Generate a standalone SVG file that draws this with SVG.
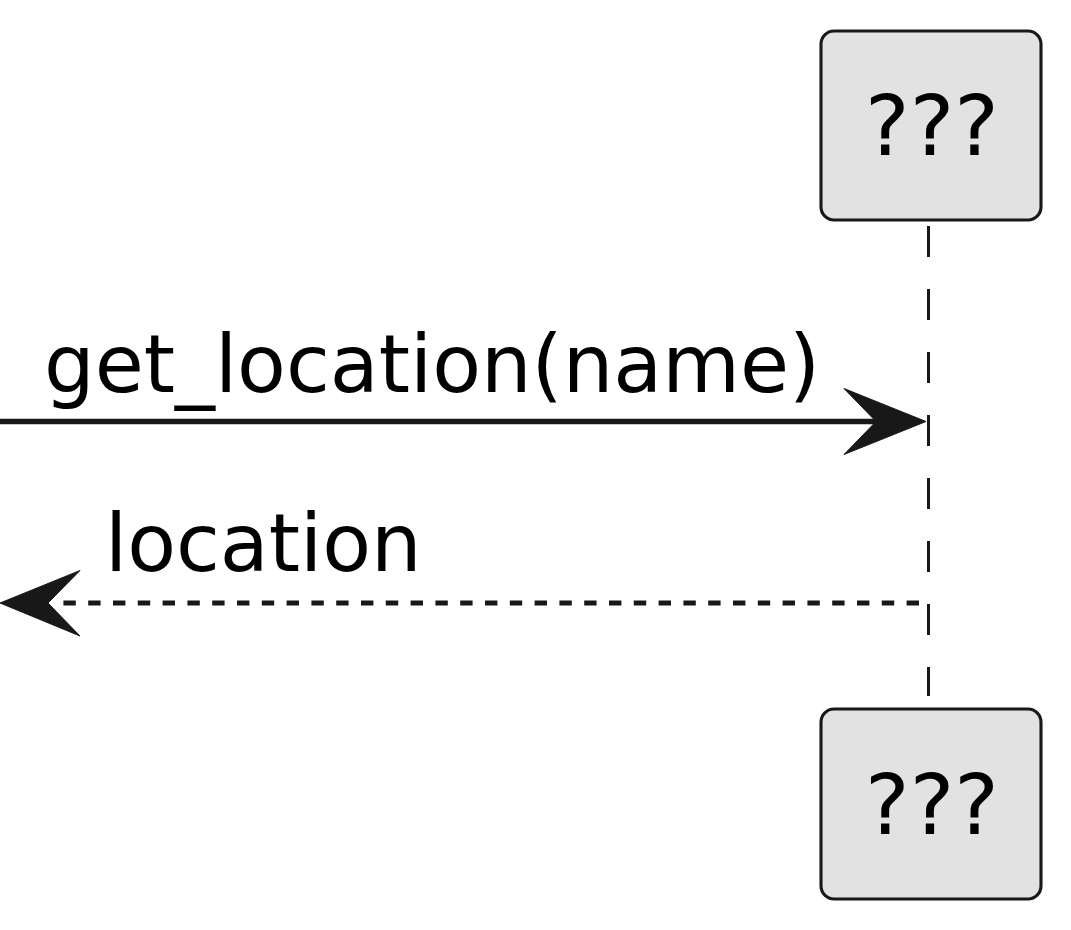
<svg xmlns="http://www.w3.org/2000/svg" width="1071" height="930" viewBox="0 0 1071 930">
<style>
.box{fill:#E2E2E2;stroke:#181818;stroke-width:3.1}
.ptxt{font-family:"DejaVu Sans",sans-serif;font-size:84px;fill:#000;text-anchor:middle}
.mtxt{font-family:"DejaVu Sans",sans-serif;font-size:79.8px;fill:#000}
.life{stroke:#181818;stroke-width:3;stroke-dasharray:31,32;fill:none}
.msg{stroke:#181818;stroke-width:5.5;fill:none}
.ret{stroke:#181818;stroke-width:5;stroke-dasharray:12.4,12.4;fill:none}
.head{fill:#181818;stroke:#181818;stroke-width:1}
</style>
<rect width="1071" height="930" fill="#FFFFFF"/>
<g id="lifeline">
<line class="life" x1="928.5" y1="226" x2="928.5" y2="696"/>
</g>
<g id="participant-top">
<rect class="box" x="821" y="31" width="220" height="189" rx="13" ry="13"/>
<text class="ptxt" x="932" y="155">???</text>
</g>
<g id="participant-bottom">
<rect class="box" x="821" y="709" width="220" height="190" rx="13" ry="13"/>
<text class="ptxt" x="932" y="834">???</text>
</g>
<g id="connectors">
<line class="msg" x1="0" y1="421.5" x2="900" y2="421.5"/>
<polygon class="head" points="926,421.5 844,388.5 876,421.5 844,454.5"/>
<text class="mtxt" x="44" y="392">get_location(name)</text>
<line class="ret" x1="919" y1="603" x2="56" y2="603"/>
<polygon class="head" points="0,603 80,570.5 48,603 80,636"/>
<text class="mtxt" x="105" y="571">location</text>
</g>
</svg>
